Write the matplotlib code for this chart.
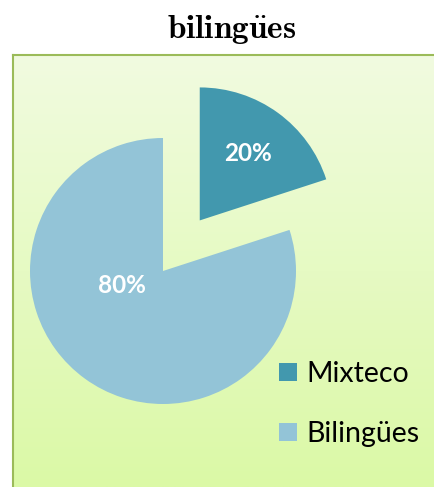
import matplotlib
matplotlib.use("Agg")
import matplotlib.pyplot as plt
import numpy as np
from matplotlib.patches import Patch

# Данные
categories = ["Mixteco", "Bilingües"]
shares = [20, 80]
colors = ["#4298AE", "#93C4D7"]

W, H = 435, 487
plt.rcParams['mathtext.fontset'] = 'cm'

fig = plt.figure(figsize=(W / 100, H / 100), dpi=100, facecolor="white")

# Заголовок
fig.text(232 / W, 1 - 29 / H, r"$\mathbf{biling\ddot{u}es}$", ha="center", va="center",
         fontsize=24, color="black")

# Фон панели с градиентом
bg = fig.add_axes([13 / W, 0, 1, (H - 55) / H])
grad = np.linspace(0, 1, 256).reshape(-1, 1)
top = np.array([241, 251, 224]) / 255
bottom = np.array([219, 249, 166]) / 255
img = top + (bottom - top) * grad[..., None]
bg.imshow(img, aspect="auto", extent=[0, 1, 0, 1], origin="upper")
bg.set_xticks([])
bg.set_yticks([])
for side in ["right", "bottom"]:
    bg.spines[side].set_visible(False)
for side in ["left", "top"]:
    bg.spines[side].set_color("#9BBB59")
    bg.spines[side].set_linewidth(1.5)

# Круговая диаграмма в пиксельных координатах
ax = fig.add_axes([0, 0, 1, 1])
ax.patch.set_visible(False)
cx, cy, r = 163, H - 271, 133
# explode в matplotlib задаётся в единицах данных, поэтому умножаем на радиус
wedges, texts, autotexts = ax.pie(
    shares, colors=colors, startangle=90, counterclock=False,
    explode=[0.47 * r, 0], center=(cx, cy), radius=r, frame=True,
    autopct="%1.0f%%", pctdistance=0.62,
    textprops=dict(color="white", fontsize=17.5, fontweight="bold", family="Lato"))
# метка большого сектора левее, как в исходнике
ang = np.deg2rad(199)
autotexts[1].set_position((cx + 0.33 * r * np.cos(ang), cy + 0.33 * r * np.sin(ang)))
ax.set_xlim(0, W)
ax.set_ylim(0, H)
ax.set_aspect("equal")
ax.axis("off")

handles = [Patch(facecolor=c, edgecolor="none") for c in colors]
fig.legend(handles, categories, loc="upper left",
           bbox_to_anchor=(279 / W, 1 - 361 / H), frameon=False,
           prop=dict(family="Lato", size=20.5), handlelength=0.62, handleheight=0.62,
           handletextpad=0.35, labelspacing=1.2, borderpad=0, borderaxespad=0)

fig.savefig("out.png", dpi=100, facecolor="white")
